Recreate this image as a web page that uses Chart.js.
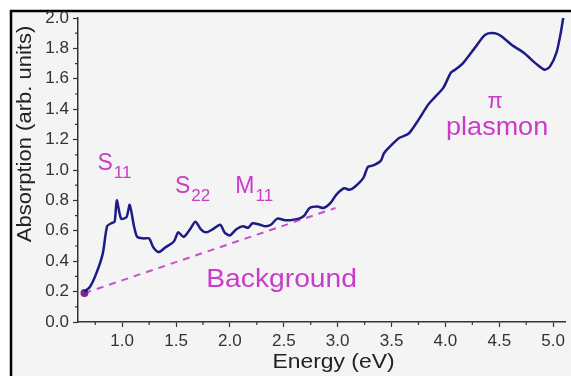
<!DOCTYPE html>
<html>
<head>
<meta charset="utf-8">
<script src="https://cdn.jsdelivr.net/npm/chart.js@4.4.0/dist/chart.umd.min.js"></script>
<style>
  html, body { margin: 0; padding: 0; background: #fff; }
  #wrap { width: 571px; height: 376px; }
</style>
</head>
<body>
<div id="wrap"><canvas id="chart" width="571" height="376"></canvas></div>
<script>
// absorption spectrum
const energy = [0.65, 0.70, 0.76, 0.82, 0.86, 0.90, 0.93, 0.95, 0.99, 1.04,
  1.07, 1.11, 1.14, 1.20, 1.25, 1.29, 1.34, 1.40, 1.48, 1.52,
  1.57, 1.63, 1.68, 1.73, 1.78, 1.84, 1.91, 1.95, 2.00, 2.06,
  2.12, 2.17, 2.21, 2.28, 2.33, 2.38, 2.44, 2.51, 2.56, 2.64,
  2.69, 2.74, 2.81, 2.87, 2.93, 2.99, 3.06, 3.11, 3.16, 3.24,
  3.28, 3.33, 3.40, 3.43, 3.48, 3.57, 3.66, 3.75, 3.84, 3.89,
  3.98, 4.05, 4.09, 4.16, 4.28, 4.37, 4.46, 4.52, 4.62, 4.73,
  4.84, 4.92, 4.97, 5.03, 5.07, 5.10];
const absorption = [0.20, 0.23, 0.32, 0.45, 0.63, 0.65, 0.66, 0.80, 0.68, 0.69,
  0.77, 0.63, 0.56, 0.55, 0.55, 0.49, 0.46, 0.49, 0.53, 0.59,
  0.56, 0.61, 0.66, 0.61, 0.59, 0.61, 0.64, 0.59, 0.57, 0.61,
  0.63, 0.62, 0.65, 0.64, 0.63, 0.64, 0.68, 0.67, 0.67, 0.68,
  0.70, 0.75, 0.76, 0.75, 0.78, 0.84, 0.88, 0.87, 0.89, 0.95,
  1.02, 1.03, 1.06, 1.11, 1.15, 1.21, 1.24, 1.33, 1.43, 1.47,
  1.54, 1.64, 1.66, 1.70, 1.81, 1.89, 1.90, 1.88, 1.82, 1.77,
  1.70, 1.66, 1.68, 1.77, 1.90, 2.03];

// dashed background line
const bgEnergy = [0.65, 2.98];
const bgAbsorption = [0.19, 0.75];

// peak labels: [text, subscript, energy, absorption]
const peakLabels = [
  ["S", "11", 0.77, 1.00],
  ["S", "22", 1.49, 0.85],
  ["M", "11", 2.05, 0.85],
];
// other labels: [text, energy, absorption, font size, stretch]
const otherLabels = [
  ["Background", 1.78, 0.23, 25, 1.13],
  ["\u03c0", 4.46, 1.41, 22, 1.0],
  ["plasmon", 4.48, 1.23, 25, 1.08],
];

const xMin = 0.59, xMax = 5.11;
const yMin = 0, yMax = 2.0;

const labelColor = "#c83cc8";
const font = "'Liberation Sans', Arial, sans-serif";

// draws text squeezed or stretched along its own direction
function wideText(ctx, text, x, y, size, sx, align) {
  ctx.save();
  ctx.translate(x, y);
  ctx.scale(sx, 1);
  ctx.font = size + "px " + font;
  ctx.textAlign = align;
  ctx.fillText(text, 0, 0);
  ctx.restore();
}

const framePlugin = {
  id: "frame",
  beforeDraw(chart) {
    const ctx = chart.ctx;
    ctx.save();
    ctx.fillStyle = "#ffffff";
    ctx.fillRect(0, 0, chart.width, chart.height);
    ctx.fillStyle = "#f4f4f4";
    ctx.fillRect(11, 11, chart.width - 11, chart.height - 11);
    ctx.strokeStyle = "#000";
    ctx.lineWidth = 2.5;
    ctx.beginPath();
    ctx.moveTo(11, chart.height);
    ctx.lineTo(11, 11);
    ctx.lineTo(chart.width, 11);
    ctx.stroke();
    ctx.restore();
  },
  afterDraw(chart) {
    const ctx = chart.ctx;
    const xs = chart.scales.x, ys = chart.scales.y;
    const area = chart.chartArea;
    ctx.save();
    // minor ticks
    ctx.strokeStyle = "#333";
    ctx.lineWidth = 1.2;
    ctx.beginPath();
    for (let v = 0.75; v <= xMax; v += 0.5) {
      const px = xs.getPixelForValue(v);
      ctx.moveTo(px, area.bottom);
      ctx.lineTo(px, area.bottom + 3);
    }
    for (let v = 0.1; v < yMax; v += 0.2) {
      const py = ys.getPixelForValue(v);
      ctx.moveTo(area.left, py);
      ctx.lineTo(area.left - 3, py);
    }
    ctx.stroke();

    // axis titles
    ctx.fillStyle = "#222";
    ctx.textBaseline = "alphabetic";
    wideText(ctx, "Energy (eV)", (area.left + area.right) / 2 + 12, 368, 21, 1.09, "center");
    ctx.save();
    ctx.translate(31, 134);
    ctx.rotate(-Math.PI / 2);
    wideText(ctx, "Absorption (arb. units)", 0, 0, 20, 1.1, "center");
    ctx.restore();

    // annotations
    ctx.fillStyle = labelColor;
    ctx.textAlign = "left";
    peakLabels.forEach(([t, sub, e, a]) => {
      const px = xs.getPixelForValue(e), py = ys.getPixelForValue(a);
      ctx.font = "23px " + font;
      ctx.fillText(t, px, py);
      const w = ctx.measureText(t).width;
      ctx.font = "17px " + font;
      ctx.fillText(sub, px + w + 1, py + 8);
    });
    otherLabels.forEach(([t, e, a, size, sx], i) => {
      const px = xs.getPixelForValue(e), py = ys.getPixelForValue(a);
      wideText(ctx, t, px, py, size, sx, i === 0 ? "left" : "center");
    });
    ctx.restore();
  },
};

new Chart(document.getElementById("chart"), {
  type: "line",
  data: {
    datasets: [
      {
        label: "Absorption",
        data: energy.map((e, i) => ({ x: e, y: absorption[i] })),
        borderColor: "#1c1c84",
        borderWidth: 2.5,
        pointRadius: 0,
        tension: 0.25,
        fill: false,
      },
      {
        label: "Background",
        data: bgEnergy.map((e, i) => ({ x: e, y: bgAbsorption[i] })),
        borderColor: "#c452c4",
        borderWidth: 2,
        borderDash: [7, 6],
        pointRadius: [3, 0],
        pointBackgroundColor: "#7a2a8a",
        pointBorderColor: "#7a2a8a",
        fill: false,
      },
    ],
  },
  options: {
    responsive: false,
    animation: false,
    devicePixelRatio: 1,
    layout: { padding: { top: 18, left: 0, right: 0, bottom: 0 } },
    plugins: {
      legend: { display: false },
      tooltip: { enabled: false },
    },
    scales: {
      x: {
        type: "linear",
        min: xMin,
        max: xMax,
        border: { color: "#333", width: 1.5 },
        grid: { drawOnChartArea: false, tickLength: 5, color: "#333", tickWidth: 1.2 },
        ticks: {
          stepSize: 0.5,
          includeBounds: false,
          color: "#333",
          padding: 4,
          font: { family: font, size: 17 },
          callback: (v) => v.toFixed(1),
        },
        afterFit(scale) {
          scale.height = 54;
          scale.paddingLeft = 0;
          scale.paddingRight = 0;
        },
      },
      y: {
        min: yMin,
        max: yMax,
        border: { color: "#333", width: 1.5 },
        grid: { drawOnChartArea: false, tickLength: 5, color: "#333", tickWidth: 1.2 },
        ticks: {
          stepSize: 0.2,
          color: "#333",
          padding: 4,
          font: { family: font, size: 17 },
          callback: (v) => v.toFixed(1),
        },
        afterFit(scale) {
          scale.width = 78;
        },
      },
    },
  },
  plugins: [framePlugin],
});
</script>
</body>
</html>
